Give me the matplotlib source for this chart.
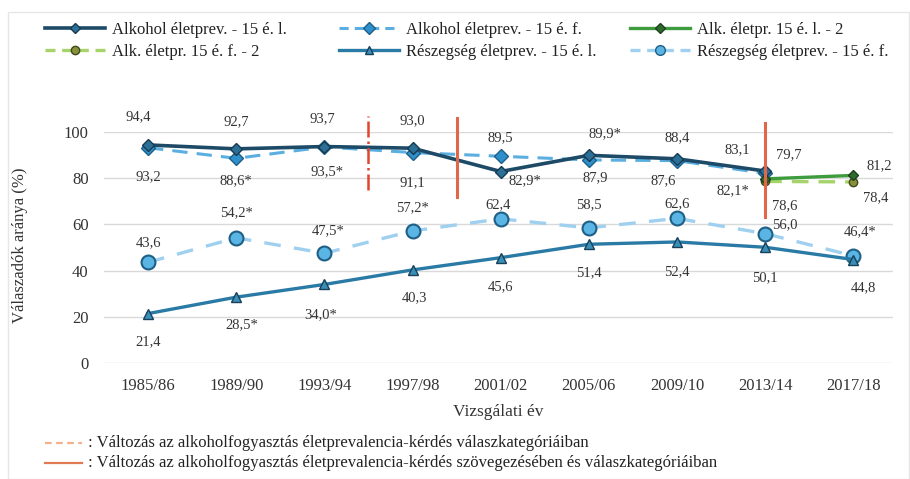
import matplotlib.pyplot as plt
from matplotlib.lines import Line2D
import numpy as np

plt.rcParams['font.family'] = ['Liberation Serif', 'DejaVu Serif']

# survey years
years = ['1985/86', '1989/90', '1993/94', '1997/98', '2001/02',
         '2005/06', '2009/10', '2013/14', '2017/18']

# alcohol lifetime prevalence (old question), girls / boys
alk_l = [94.4, 92.7, 93.7, 93.0, 82.9, 89.9, 88.4, 83.1, None]
alk_f = [93.2, 88.6, 93.5, 91.1, 89.5, 87.9, 87.6, 82.1, None]
alk_l_lab = ['94,4', '92,7', '93,7', '93,0', '82,9*', '89,9*', '88,4', '83,1', '']
alk_f_lab = ['93,2', '88,6*', '93,5*', '91,1', '89,5', '87,9', '87,6', '82,1*', '']

# new question (from 2013/14)
alk2_l = [None] * 7 + [79.7, 81.2]
alk2_f = [None] * 7 + [78.6, 78.4]
alk2_l_lab = [''] * 7 + ['79,7', '81,2']
alk2_f_lab = [''] * 7 + ['78,6', '78,4']

# drunkenness lifetime prevalence
resz_l = [21.4, 28.5, 34.0, 40.3, 45.6, 51.4, 52.4, 50.1, 44.8]
resz_f = [43.6, 54.2, 47.5, 57.2, 62.4, 58.5, 62.6, 56.0, 46.4]
resz_l_lab = ['21,4', '28,5*', '34,0*', '40,3', '45,6', '51,4', '52,4', '50,1', '44,8']
resz_f_lab = ['43,6', '54,2*', '47,5*', '57,2*', '62,4', '58,5', '62,6', '56,0', '46,4*']

# label offsets in pixels (dx, dy up)
off_alk_l = [(-10, 28), (0, 27), (-2, 28), (0, 27), (24, -9), (16, 22), (0, 21), (-28, 21), (0, 0)]
off_alk_f = [(0, -29), (0, -22), (3, -25), (0, -30), (0, 19), (6, -18), (-14, -20), (-32, -17), (0, 0)]
off_alk2_l = [(0, 0)] * 7 + [(24, 24), (26, 10)]
off_alk2_f = [(0, 0)] * 7 + [(20, -24), (22, -16)]
off_resz_l = [(0, -28), (6, -28), (-4, -30), (2, -28), (0, -29), (0, -28), (0, -30), (0, -30), (10, -28)]
off_resz_f = [(0, 20), (0, 25), (4, 23), (0, 23), (-3, 14), (0, 23), (0, 15), (20, 9), (7, 24)]

x = np.arange(len(years))

fig = plt.figure(figsize=(9.1, 4.79), dpi=100)
ax = fig.add_axes([104 / 910, 1 - 363 / 479, 789 / 910, 231 / 479])

def arr(v):
    return np.array([np.nan if a is None else a for a in v], dtype=float)

c_dark = '#1d4a66'
c_alkf = '#5aaee0'
c_resl = '#2a7aa6'
c_resf = '#9fd0ef'

ax.plot(x, arr(alk_f), color=c_alkf, lw=2.2, ls=(0, (5, 3)), marker='D', ms=7,
        mfc='#2f8fcb', mec='#1d5f88', zorder=3)
ax.plot(x, arr(alk_l), color=c_dark, lw=2.6, marker='D', ms=6,
        mfc='#2b6f96', mec='#153a52', zorder=4)
ax.plot(x, arr(alk2_f), color='#a6d36a', lw=2.4, ls=(0, (5, 3)), marker='o', ms=6,
        mfc='#8a8f3a', mec='#3d4a1f', zorder=4)
ax.plot(x, arr(alk2_l), color='#3e9c3e', lw=2.4, marker='D', ms=5,
        mfc='#2e6b2e', mec='#1e3f1e', zorder=4)
ax.plot(x, arr(resz_f), color=c_resf, lw=2.4, ls=(0, (5, 4)), marker='o', ms=10,
        mfc='#5ab4e4', mec='#1f5f85', mew=1.5, zorder=3)
ax.plot(x, arr(resz_l), color=c_resl, lw=2.4, marker='^', ms=7,
        mfc='#3a8fb8', mec='#17405a', zorder=4)

def labels(vals, labs, offs):
    for i, (v, t, o) in enumerate(zip(vals, labs, offs)):
        if v is None or not t:
            continue
        ax.annotate(t, (x[i], v), xytext=(o[0] * 0.72, o[1] * 0.72),
                    textcoords='offset points', ha='center', va='center',
                    fontsize=10.5, color='#333333', zorder=6)

labels(alk_l, alk_l_lab, off_alk_l)
labels(alk_f, alk_f_lab, off_alk_f)
labels(alk2_l, alk2_l_lab, off_alk2_l)
labels(alk2_f, alk2_f_lab, off_alk2_f)
labels(resz_l, resz_l_lab, off_resz_l)
labels(resz_f, resz_f_lab, off_resz_f)

# question-change markers
ax.plot([2.5, 2.5], [75, 107], color='#e0452e', lw=1.8, ls='-.', clip_on=False, zorder=5)
ax.plot([3.5, 3.5], [72, 106], color='#e06848', lw=2.2, clip_on=False, zorder=5)
ax.plot([7, 7], [63, 104], color='#e06848', lw=2.2, clip_on=False, zorder=5)

ax.set_xlim(-0.5, 8.45)
ax.set_ylim(0, 100)
ax.set_yticks(range(0, 101, 20))
ax.set_xticks(x)
ax.set_xticklabels(years)
ax.tick_params(length=0, labelsize=12, colors='#333333', pad=11)
ax.grid(axis='y', color='#d9d9d9', lw=1)
ax.set_axisbelow(True)
for s in ax.spines.values():
    s.set_visible(False)

fig.text(20 / 910, 1 - 245 / 479, 'Válaszadók aránya (%)', rotation=90,
         ha='center', va='center', fontsize=12, color='#333333')
fig.text(498 / 910, 1 - 412 / 479, 'Vizsgálati év', ha='center', va='center',
         fontsize=12.5, color='#333333')

# legend, three columns of two entries
h_alk_l = Line2D([], [], color=c_dark, lw=2.6, marker='D', ms=5, mfc='#2b6f96', mec='#153a52')
h_alk_f = Line2D([], [], color=c_alkf, lw=2.2, ls=(0, (3, 2)), marker='D', ms=6, mfc='#2f8fcb', mec='#1d5f88')
h_alk2_l = Line2D([], [], color='#3e9c3e', lw=2.4, marker='D', ms=5, mfc='#2e6b2e', mec='#1e3f1e')
h_alk2_f = Line2D([], [], color='#a6d36a', lw=2.4, ls=(0, (3, 2)), marker='o', ms=6, mfc='#8a8f3a', mec='#3d4a1f')
h_resz_l = Line2D([], [], color=c_resl, lw=2.4, marker='^', ms=6, mfc='#3a8fb8', mec='#17405a')
h_resz_f = Line2D([], [], color=c_resf, lw=2.4, ls=(0, (3, 2)), marker='o', ms=7, mfc='#5ab4e4', mec='#1f5f85')

cols = [([h_alk_l, h_alk2_f], ['Alkohol életprev. - 15 é. l.', 'Alk. életpr. 15 é. f. - 2'], 45),
        ([h_alk_f, h_resz_l], ['Alkohol életprev. - 15 é. f.', 'Részegség életprev. - 15 é. l.'], 339),
        ([h_alk2_l, h_resz_f], ['Alk. életpr. 15 é. l. - 2', 'Részegség életprev. - 15 é. f.'], 630)]
for hs, ls_, xp in cols:
    lg = fig.legend(hs, ls_, loc='upper left', bbox_to_anchor=(xp / 910, 1 - 22 / 479),
                    frameon=False, fontsize=12, handlelength=3.6, handletextpad=0.4,
                    labelspacing=0.35, borderaxespad=0, borderpad=0)
    for t in lg.get_texts():
        t.set_color('#222222')

# notes at bottom
fig.add_artist(Line2D([45 / 910, 82 / 910], [1 - 443 / 479] * 2, color='#f4b08a',
                      lw=1.6, ls=(0, (3, 2))))
fig.add_artist(Line2D([45 / 910, 82 / 910], [1 - 463 / 479] * 2, color='#e07a55', lw=1.6))
fig.text(88 / 910, 1 - 443 / 479, ': Változás az alkoholfogyasztás életprevalencia-kérdés válaszkategóriáiban',
         va='center', fontsize=12, color='#222222')
fig.text(88 / 910, 1 - 463 / 479, ': Változás az alkoholfogyasztás életprevalencia-kérdés szövegezésében és válaszkategóriáiban',
         va='center', fontsize=12, color='#222222')

# faint outer frame
fig.add_artist(plt.Rectangle((8 / 910, 0.0), 0.999 - 8 / 910, 1 - 12 / 479,
                             transform=fig.transFigure, fill=False, ec='#e6e6e6', lw=1))

fig.savefig('out.png', dpi=100)
